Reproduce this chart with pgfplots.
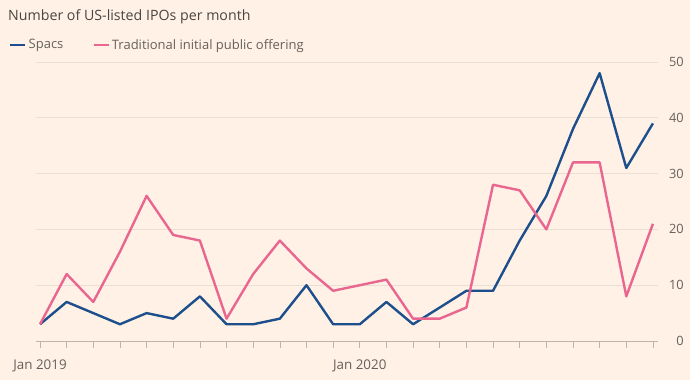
\documentclass[border=0pt]{standalone}
\usepackage{fontspec}
\setmainfont{Open Sans}
\usepackage{pgfplots}
\pgfplotsset{compat=1.18}
\definecolor{ftbg}{HTML}{FFF1E5}
\definecolor{spacblue}{HTML}{1D4F8C}
\definecolor{ipopink}{HTML}{E8668F}
\definecolor{gridc}{HTML}{EADFD5}
\definecolor{axisc}{HTML}{BDB5AC}
\definecolor{textc}{HTML}{66605C}
\definecolor{titlec}{HTML}{4A4542}
\begin{document}
\begin{tikzpicture}[x=1pt,y=1pt]
\useasboundingbox (0,0) rectangle (690,380);
\fill[ftbg] (0,0) rectangle (690,380);
\node[anchor=west, inner sep=0, text=titlec, font=\fontsize{14.2}{16}\selectfont] at (8,363) {Number of US-listed IPOs per month};
\begin{axis}[
  at={(36pt,39pt)}, anchor=south west,
  scale only axis, width=622pt, height=279pt,
  xmin=-0.15, xmax=23.19, ymin=0, ymax=50,
  axis line style={draw=none},
  ymajorgrids, grid style={gridc, line width=0.8pt},
  ytick={10,20,30,40,50},
  extra y ticks={0}, extra y tick style={grid=none},
  yticklabel pos=right,
  ytick style={draw=none},
  yticklabel style={anchor=east, inner sep=0pt, xshift=19pt, text=textc, font=\fontsize{12.8}{14}\selectfont},
  xtick={0,...,23},
  xticklabels={Jan 2019,,,,,,,,,,,,Jan 2020,,,,,,,,,,,},
  xtick pos=bottom, tick align=outside,
  major tick length=7pt,
  xtick style={axisc, line width=0.6pt},
  xticklabel style={anchor=base, inner sep=0pt, yshift=-21pt, text=textc, font=\fontsize{13.4}{15}\selectfont},
  /pgf/number format/assume math mode=true,
  legend columns=-1,
  legend style={at={(axis description cs:-0.0434,1.061)}, anchor=west, draw=none, fill=none, inner sep=0pt,
    font=\fontsize{13}{15}\selectfont, text=textc,
    /tikz/every even column/.append style={column sep=27pt}},
  legend cell align=left,
  legend image code/.code={\draw[#1, line width=2.5pt] (0,0) -- (15pt,0);},
  clip=false,
]
\draw[axisc, line width=0.8pt] (rel axis cs:0,0) -- (rel axis cs:1,0);
\addplot[spacblue, line width=2.4pt, line join=round] coordinates {
(0,3)(1,7)(2,5)(3,3)(4,5)(5,4)(6,8)(7,3)(8,3)(9,4)(10,10)(11,3)
(12,3)(13,7)(14,3)(15,6)(16,9)(17,9)(18,18)(19,26)(20,38)(21,48)(22,31)(23,39)};
\addlegendentry{Spacs}
\addplot[ipopink, line width=2.4pt, line join=round] coordinates {
(0,3)(1,12)(2,7)(3,16)(4,26)(5,19)(6,18)(7,4)(8,12)(9,18)(10,13)(11,9)
(12,10)(13,11)(14,4)(15,4)(16,6)(17,28)(18,27)(19,20)(20,32)(21,32)(22,8)(23,21)};
\addlegendentry{Traditional initial public offering}
\end{axis}
\end{tikzpicture}
\end{document}
